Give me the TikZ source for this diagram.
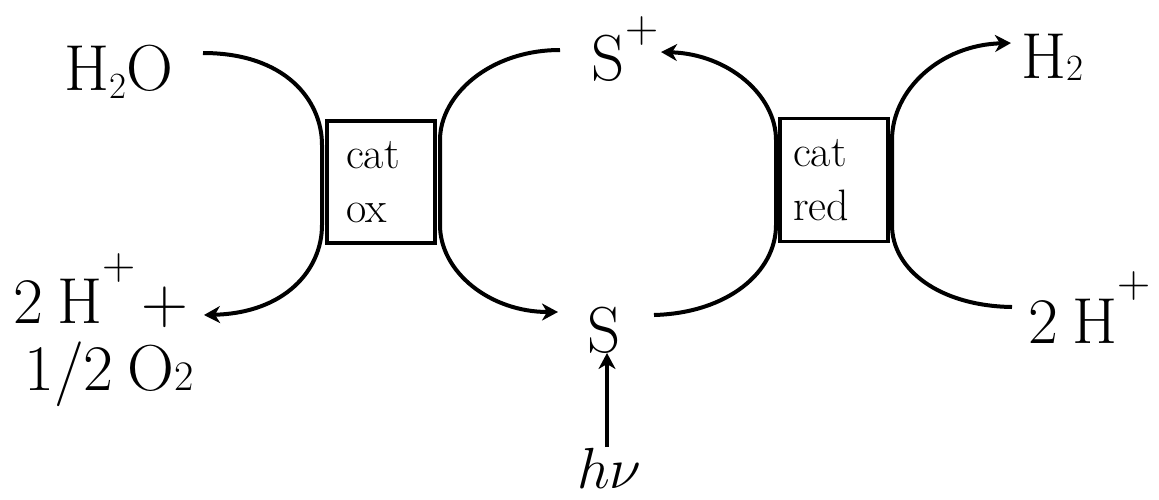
\RequirePackage{fix-cm}
\documentclass[tikz,border=0pt]{standalone}
\usetikzlibrary{arrows.meta}
\begin{document}
\begin{tikzpicture}[x=1pt,y=-1pt,
  lbl/.style={anchor=base west, inner sep=0pt, font=\rmfamily\fontsize{65}{65}\selectfont},
  catbox/.style={draw, line width=3.5pt, minimum width=108pt, minimum height=122pt,
    text width=70pt, align=left, inner sep=0pt, font=\rmfamily\fontsize{44}{54}\selectfont},
  conn/.style={line width=4pt},
  arr/.style={conn, -{Stealth[length=16pt,width=17pt,inset=5pt]}},
  ]
\useasboundingbox (0,0) rectangle (1159,499);
\newcommand{\supplus}[1]{\raisebox{#1}{\fontsize{46}{46}\selectfont +}}
\newcommand{\subtwo}[2]{\raisebox{#2}{\fontsize{#1}{#1}\selectfont 2}}

% catalyst boxes
\node[catbox] (catox) at (381,182) {cat\\ox};
\node[catbox, minimum height=123pt, text width=82pt] (catred) at (834,180) {cat\\red};

% labels
\node[lbl] (h2o) at (64,90) {H\subtwo{37}{-8pt}O};
\node[lbl] (splus) at (591,80) {S\kern1pt\supplus{38pt}};
\node[lbl] (h2) at (1021,78) {H\subtwo{37}{-2pt}};
\node[lbl] (hpl) at (13,323) {2\hspace{14pt}H\supplus{44pt}\hspace{6pt}+};
\node[lbl] (oxy) at (24,390) {1/2\hspace{14pt}O\subtwo{42}{0pt}};
\node[lbl] (s) at (587,352) {S};
\node[lbl] (hpr) at (1028,343) {2\hspace{14pt}H\supplus{46pt}};
\node[anchor=base west, inner sep=0pt, font=\fontsize{58}{58}\selectfont] (hv) at (577,488) {$h\nu$};

% connector end points
\coordinate (h2oE) at (203,53);
\coordinate (hplE) at (204,315);
\coordinate (splW) at (560,50);
\coordinate (splE) at (661,52);
\coordinate (sW) at (558,312);
\coordinate (sE) at (654,315);
\coordinate (sS) at (607,353);
\coordinate (hvN) at (607,447);
\coordinate (h2W) at (1011,43);
\coordinate (hprW) at (1012,307);

% connectors
\draw[arr] (h2oE) .. controls (285,53) and (322,100) .. (322,145)
  -- (322,225) .. controls (322,270) and (285,313) .. (hplE);
\draw[arr] (splW) .. controls (490,50) and (440,95) .. (440,140)
  -- (440,225) .. controls (440,272) and (490,312) .. (sW);
\draw[arr] (sE) .. controls (728,313) and (776,272) .. (776,225)
  -- (776,140) .. controls (776,95) and (728,54) .. (splE);
\draw[arr] (hprW) .. controls (940,306) and (892,270) .. (892,225)
  -- (892,140) .. controls (892,90) and (940,45) .. (h2W);
\draw[arr] (hvN) -- (sS);
\end{tikzpicture}
\end{document}
